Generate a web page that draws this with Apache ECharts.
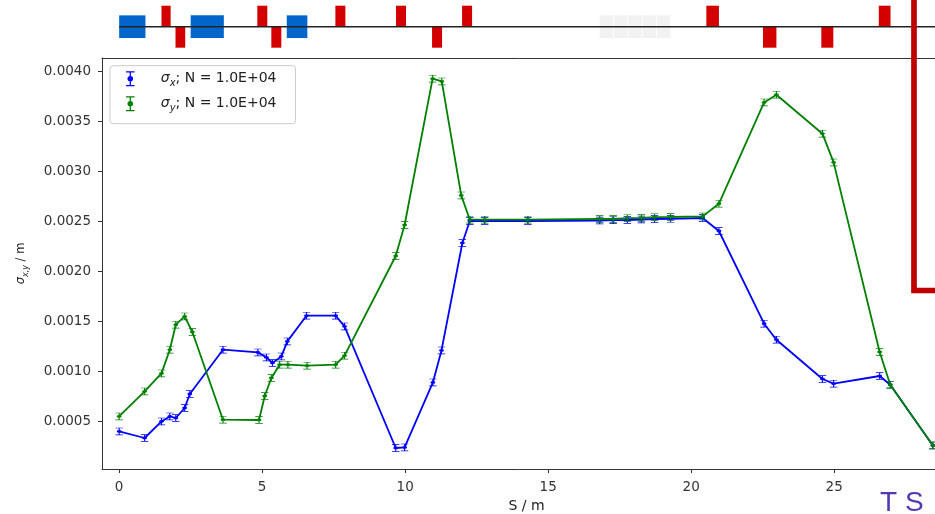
<!DOCTYPE html>
<html><head><meta charset="utf-8">
<script src="https://cdn.jsdelivr.net/npm/echarts@6/dist/echarts.min.js"></script>
<style>html,body{margin:0;padding:0;background:#fff}#c{width:935px;height:514px}</style>
</head><body><div id="c"></div>
<script>
// ---- data ----
const sBlue = [0, 0.89, 1.48, 1.77, 1.98, 2.29, 2.47, 3.63, 4.85, 5.15, 5.36, 5.67, 5.88, 6.55, 7.57, 7.88, 9.67, 9.98, 10.97, 11.27, 12.0, 12.26, 12.78, 14.29, 16.8, 17.27, 17.77, 18.26, 18.72, 19.28, 20.4, 20.97, 22.55, 22.98, 24.59, 24.98, 26.59, 26.96, 28.45];
const vBlue = [0.000396, 0.00033, 0.000496, 0.000546, 0.00053, 0.00063, 0.00077, 0.001213, 0.001186, 0.001136, 0.00108, 0.001146, 0.001296, 0.001553, 0.001553, 0.001446, 0.00023, 0.000236, 0.000886, 0.001206, 0.00228, 0.0025, 0.0025, 0.0025, 0.002505, 0.002508, 0.00251, 0.002515, 0.00252, 0.002522, 0.00253, 0.0024, 0.001473, 0.001313, 0.00092, 0.000873, 0.00095, 0.000863, 0.000256];
const sGreen = [0, 0.89, 1.48, 1.77, 1.98, 2.29, 2.56, 3.63, 4.89, 5.09, 5.32, 5.61, 5.90, 6.57, 7.57, 7.88, 9.67, 9.98, 10.96, 11.28, 11.96, 12.26, 12.78, 14.29, 16.8, 17.27, 17.77, 18.26, 18.72, 19.28, 20.4, 20.97, 22.55, 22.98, 24.59, 24.98, 26.59, 26.96, 28.45];
const vGreen = [0.000546, 0.000796, 0.000976, 0.001213, 0.001463, 0.001546, 0.00139, 0.000513, 0.00051, 0.00075, 0.00093, 0.001063, 0.001063, 0.001053, 0.001063, 0.001153, 0.00215, 0.00246, 0.003923, 0.003896, 0.002756, 0.002513, 0.002513, 0.002513, 0.00252, 0.00252, 0.002528, 0.00253, 0.002538, 0.00254, 0.002546, 0.002673, 0.003686, 0.003763, 0.003373, 0.003086, 0.00119, 0.000863, 0.000256];
const xTicks = [0, 5, 10, 15, 20, 25];
const yTicks = [0.0005, 0.0010, 0.0015, 0.0020, 0.0025, 0.0030, 0.0035, 0.0040];
const seriesNames = ['sigma_x', 'sigma_y'];
const seriesSub = ['x', 'y'];
const legendSuffix = '; N = 1.0E+04';
// lattice
const quadStart = [1.48, 1.97, 4.83, 5.32, 7.56, 9.68, 10.94, 11.99, 20.53, 22.51, 24.55, 26.56];
const quadEnd   = [1.80, 2.31, 5.18, 5.67, 7.91, 10.03, 11.29, 12.34, 20.97, 22.98, 24.97, 26.97];
const quadSign  = [1, -1, 1, -1, 1, 1, -1, 1, 1, -1, -1, 1];
const dipoleStart = [0, 2.50, 5.86];
const dipoleEnd   = [0.92, 3.66, 6.58];
const monStart = [16.80, 17.30, 17.80, 18.30, 18.80];
const monEnd   = [17.27, 17.77, 18.27, 18.77, 19.27];
const latticeLine = [0, 28.6];

// ---- chart ----
const XMIN = -0.6, XMAX = 28.525;
const ebPath = 'path://M0,0H8V1.2H4.6V12.8H8V14H0V12.8H3.4V1.2H0Z M6.6,7A2.6,2.6 0 1,1 1.4,7A2.6,2.6 0 1,1 6.6,7Z';
const colors = ['#0000ff', '#008000'];

const chart = echarts.init(document.getElementById('c'), null, {renderer: 'canvas'});

function rectItem(color) {
  return function (params, api) {
    const p0 = api.coord([api.value(0), api.value(3)]);
    const p1 = api.coord([api.value(1), api.value(2)]);
    return {type: 'rect', shape: {x: p0[0], y: p0[1], width: p1[0] - p0[0], height: p1[1] - p0[1]},
            style: {fill: color}};
  };
}

const quadData = quadStart.map((s, i) => quadSign[i] > 0 ? [s, quadEnd[i], 0, 1] : [s, quadEnd[i], -1, 0]);
const dipData = dipoleStart.map((s, i) => [s, dipoleEnd[i], -0.54, 0.54]);
const monData = monStart.map((s, i) => [s, monEnd[i], -0.54, 0.54]);

const FONT = 'DejaVu Sans';
const axisCol = '#333';

const option = {
  animation: false,
  backgroundColor: '#ffffff',
  grid: [
    {left: 102, top: 58, width: 833, height: 411, show: false, outerBoundsMode: 'none', containLabel: false},
    {left: 102, top: 5.7, width: 833, height: 42, show: false, outerBoundsMode: 'none', containLabel: false}
  ],
  xAxis: [
    {type: 'value', gridIndex: 0, min: XMIN, max: XMAX,
     name: 'S / m', nameLocation: 'middle', nameGap: 29,
     nameTextStyle: {fontFamily: FONT, fontSize: 14, color: '#222', padding: [0, 0, 0, 16]},
     axisLine: {show: true, onZero: false, lineStyle: {color: axisCol, width: 1}},
     axisTick: {show: true, length: 4, lineStyle: {color: axisCol}, customValues: xTicks},
     axisLabel: {show: true, fontFamily: FONT, fontSize: 13.5, color: '#333', margin: 11, customValues: xTicks},
     splitLine: {show: false}},
    {type: 'value', gridIndex: 0, position: 'top', min: XMIN, max: XMAX,
     axisLine: {show: true, onZero: false, lineStyle: {color: axisCol, width: 1}},
     axisTick: {show: false}, axisLabel: {show: false}, splitLine: {show: false}},
    {type: 'value', gridIndex: 1, min: XMIN, max: XMAX, show: false}
  ],
  yAxis: [
    {type: 'value', gridIndex: 0, min: 0.00002, max: 0.00413,
     name: '{g|σ}{sub|x,y}{t| / m}', nameLocation: 'middle', nameRotate: 90, nameGap: 72,
     nameTextStyle: {rich: {
       g: {fontFamily: FONT, fontSize: 11.5, fontStyle: 'italic', color: '#222', lineHeight: 17},
       sub: {fontFamily: FONT, fontSize: 8, fontStyle: 'italic', color: '#222', lineHeight: 17, verticalAlign: 'bottom'},
       t: {fontFamily: FONT, fontSize: 11.5, color: '#222', lineHeight: 17}}},
     axisLine: {show: true, onZero: false, lineStyle: {color: axisCol, width: 1}},
     axisTick: {show: true, length: 4, lineStyle: {color: axisCol}, customValues: yTicks},
     axisLabel: {show: true, fontFamily: FONT, fontSize: 13.5, color: '#333', margin: 11,
                 customValues: yTicks, formatter: v => v.toFixed(4)},
     splitLine: {show: false}},
    {type: 'value', gridIndex: 1, min: -1, max: 1, show: false}
  ],
  legend: {
    left: 110, top: 65.7, orient: 'vertical',
    data: seriesNames.map(n => ({name: n, icon: ebPath})),
    itemWidth: 9, itemHeight: 15, itemGap: 7.5,
    padding: [5.5, 19, 10, 16],
    borderColor: '#cccccc', borderWidth: 1, borderRadius: 3, backgroundColor: '#fff',
    formatter: function (name) {
      const i = seriesNames.indexOf(name);
      return '{g|σ}{sub|' + seriesSub[i] + '}{t|' + legendSuffix + '}';
    },
    textStyle: {rich: {
      g: {fontFamily: FONT, fontSize: 14, fontStyle: 'italic', color: '#222', lineHeight: 20, padding: [0, 0, 0, 21]},
      sub: {fontFamily: FONT, fontSize: 10, fontStyle: 'italic', color: '#222', lineHeight: 20, verticalAlign: 'bottom'},
      t: {fontFamily: FONT, fontSize: 14, color: '#222', lineHeight: 20}
    }}
  },
  series: [
    {type: 'custom', xAxisIndex: 2, yAxisIndex: 1, renderItem: rectItem('#f2f2f2'), data: monData, encode: {x: [0, 1], y: [2, 3]}, z: 1, silent: true},
    {type: 'custom', xAxisIndex: 2, yAxisIndex: 1, renderItem: rectItem('#0066cc'), data: dipData, encode: {x: [0, 1], y: [2, 3]}, z: 2, silent: true},
    {type: 'custom', xAxisIndex: 2, yAxisIndex: 1, renderItem: rectItem('#d40000'), data: quadData, encode: {x: [0, 1], y: [2, 3]}, z: 2, silent: true},
    {type: 'line', xAxisIndex: 2, yAxisIndex: 1, data: latticeLine.map(s => [s, 0]), symbol: 'none',
     lineStyle: {color: '#222', width: 1.5}, z: 5, silent: true},
    {name: seriesNames[0], type: 'line', xAxisIndex: 0, yAxisIndex: 0,
     data: sBlue.map((s, i) => [s, vBlue[i]]), color: colors[0],
     symbol: ebPath, symbolSize: [7.5, 7.5], showAllSymbol: true,
     lineStyle: {color: colors[0], width: 1.8}, itemStyle: {color: colors[0]}, z: 3},
    {name: seriesNames[1], type: 'line', xAxisIndex: 0, yAxisIndex: 0,
     data: sGreen.map((s, i) => [s, vGreen[i]]), color: colors[1],
     symbol: ebPath, symbolSize: [7.5, 7.5], showAllSymbol: true,
     lineStyle: {color: colors[1], width: 1.8}, itemStyle: {color: colors[1]}, z: 4}
  ],
  graphic: [
    {type: 'polyline', z: 100, shape: {points: [[914, -5], [914, 290.5], [945, 290.5]]},
     style: {stroke: '#c00000', lineWidth: 5.7, fill: null}},
    {type: 'text', z: 100, left: 880, top: 489,
     style: {text: 'T S', fill: '#5238b4', fontFamily: 'Liberation Sans', fontSize: 28}}
  ]
};
chart.setOption(option);
</script>
</body></html>
